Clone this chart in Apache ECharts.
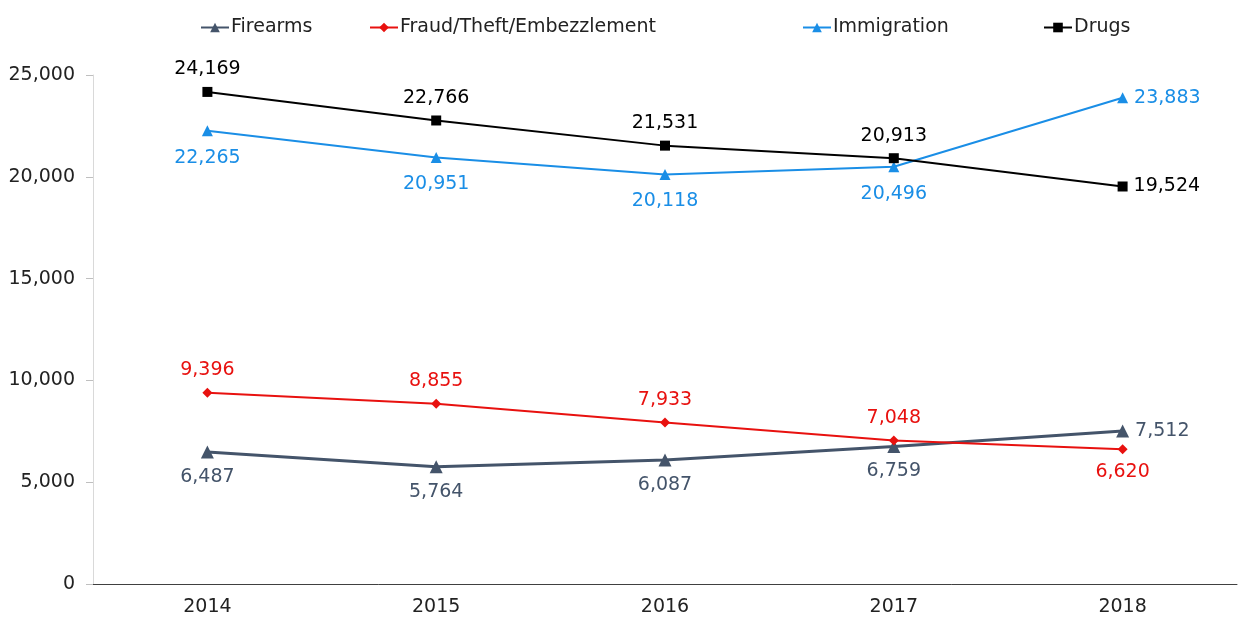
<!DOCTYPE html>
<html>
<head>
<meta charset="utf-8">
<script src="https://cdn.jsdelivr.net/npm/echarts@6/dist/echarts.min.js"></script>
<style>
  html, body { margin: 0; padding: 0; background: #fff; }
  #chart { width: 1241px; height: 621px; }
</style>
</head>
<body>
<div id="chart"></div>
<script>
const years = ['2014', '2015', '2016', '2017', '2018']
const firearms = [6487, 5764, 6087, 6759, 7512]
const fraud = [9396, 8855, 7933, 7048, 6620]
const immigration = [22265, 20951, 20118, 20496, 23883]
const drugs = [24169, 22766, 21531, 20913, 19524]

const font = 'DejaVu Sans'
const fmt = p => p.value.toLocaleString('en-US')

// label position per point, labels on the right sit close to the marker
function withPos(values, positions) {
  return values.map((v, i) => {
    const label = { position: positions[i] }
    if (positions[i] === 'right') label.distance = 6
    return { value: v, label: label }
  })
}

// one legend per item so each can sit where the original puts it
function legendAt(name, left) {
  return {
    top: 13,
    left: left,
    itemWidth: 28,
    itemHeight: 12,
    textStyle: { fontSize: 19, color: '#222', fontFamily: font, padding: [0, 0, 0, -3] },
    data: [name]
  }
}

const chart = echarts.init(document.getElementById('chart'))
chart.setOption({
  backgroundColor: '#fff',
  textStyle: { fontFamily: font },
  animation: false,
  legend: [
    legendAt('Firearms', 195),
    legendAt('Fraud/Theft/Embezzlement', 364),
    legendAt('Immigration', 797),
    legendAt('Drugs', 1038)
  ],
  grid: { left: 93, right: 4, top: 75, bottom: 37 },
  xAxis: {
    type: 'category',
    data: years,
    axisLine: { lineStyle: { color: '#404040', width: 1 } },
    axisTick: { alignWithLabel: true, length: 6, lineStyle: { color: '#404040' } },
    axisLabel: { fontSize: 19, color: '#222', margin: 14, fontFamily: font }
  },
  yAxis: {
    type: 'value',
    min: 0,
    max: 25000,
    interval: 5000,
    axisLine: { show: true, lineStyle: { color: '#d9d9d9' } },
    axisTick: { show: true, length: 7, lineStyle: { color: '#bfbfbf' } },
    splitLine: { show: false },
    axisLabel: {
      fontSize: 19, color: '#222', margin: 18, fontFamily: font,
      formatter: v => v.toLocaleString('en-US')
    }
  },
  series: [
    {
      name: 'Firearms',
      type: 'line',
      data: withPos(firearms, ['bottom', 'bottom', 'bottom', 'bottom', 'right']),
      symbol: 'triangle',
      symbolSize: 13,
      color: '#44546a',
      lineStyle: { width: 3, color: '#44546a' },
      label: { show: true, color: '#44546a', fontSize: 19, distance: 9, formatter: fmt }
    },
    {
      name: 'Fraud/Theft/Embezzlement',
      type: 'line',
      data: withPos(fraud, ['top', 'top', 'top', 'top', 'bottom']),
      symbol: 'diamond',
      symbolSize: 10,
      color: '#e8110f',
      lineStyle: { width: 2, color: '#e8110f' },
      label: { show: true, color: '#e8110f', fontSize: 19, distance: 8, formatter: fmt }
    },
    {
      name: 'Immigration',
      type: 'line',
      data: withPos(immigration, ['bottom', 'bottom', 'bottom', 'bottom', 'right']),
      symbol: 'triangle',
      symbolSize: 11,
      color: '#1a8ee6',
      lineStyle: { width: 2, color: '#1a8ee6' },
      label: { show: true, color: '#1a8ee6', fontSize: 19, distance: 12, formatter: fmt }
    },
    {
      name: 'Drugs',
      type: 'line',
      data: withPos(drugs, ['top', 'top', 'top', 'top', 'right']),
      symbol: 'rect',
      symbolSize: 10,
      color: '#000',
      lineStyle: { width: 2, color: '#000' },
      label: { show: true, color: '#000', fontSize: 19, distance: 8, formatter: fmt }
    }
  ]
})
</script>
</body>
</html>
